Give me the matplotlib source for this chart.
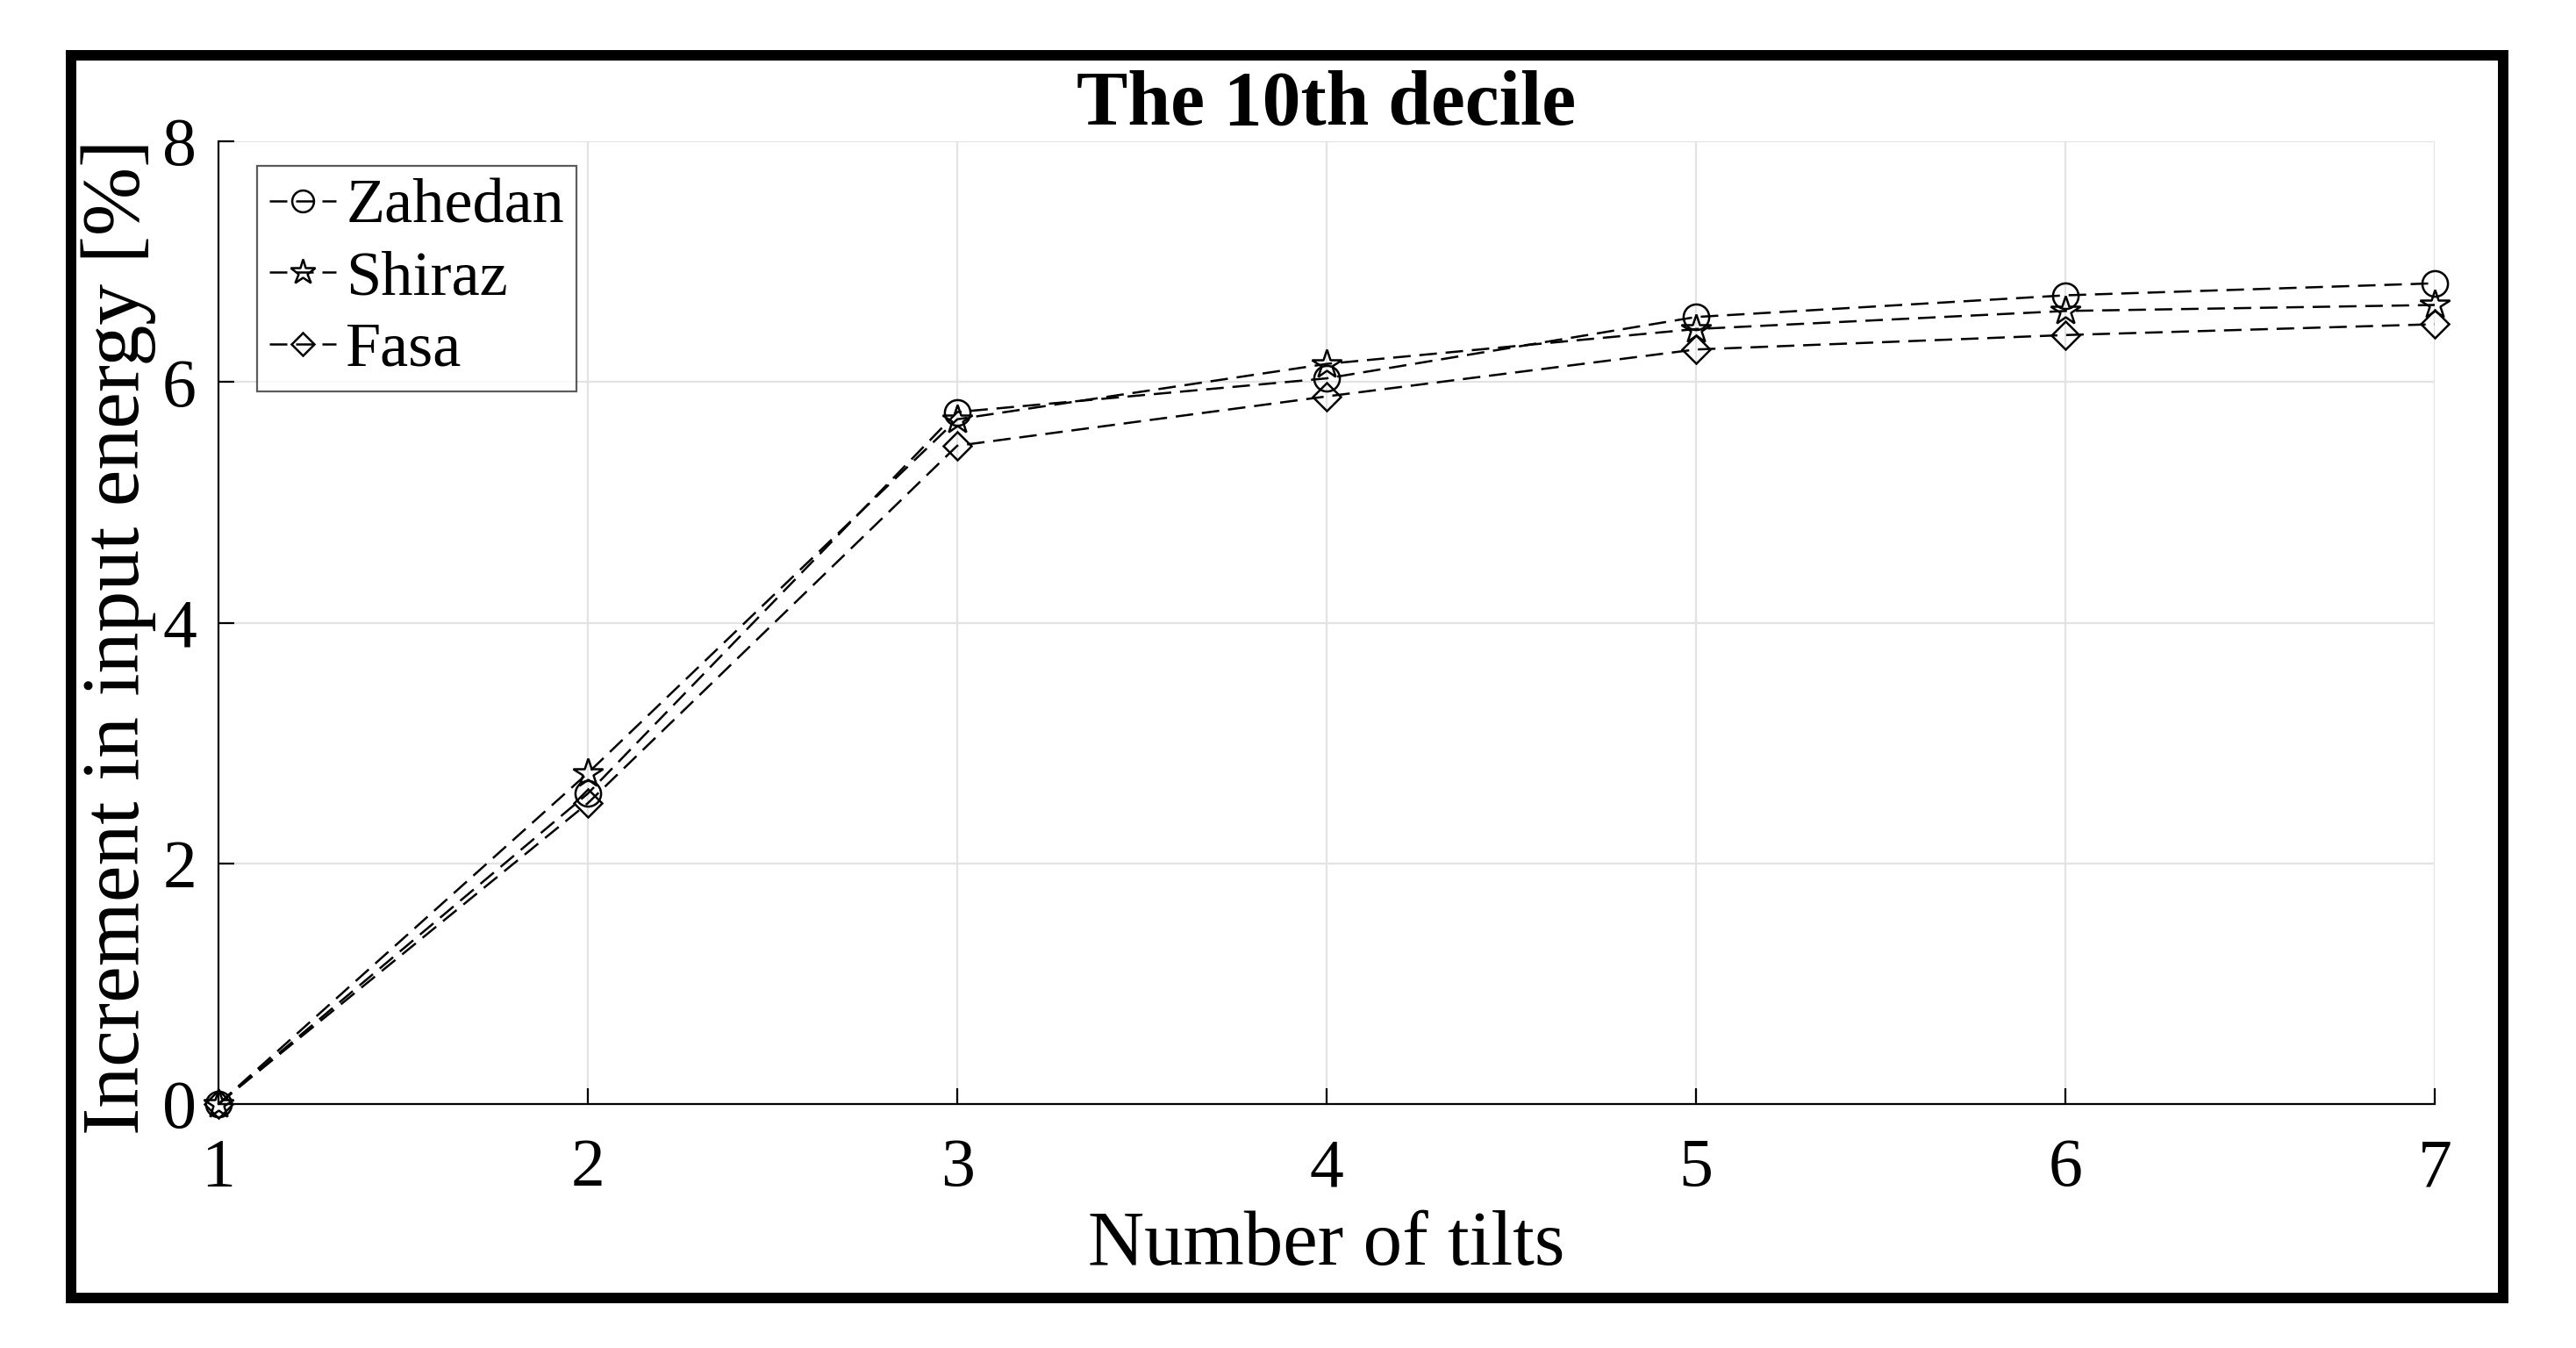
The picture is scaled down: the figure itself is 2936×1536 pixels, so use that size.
import numpy as np
import matplotlib.pyplot as plt
from matplotlib.patches import Rectangle

# data
tilts = [1, 2, 3, 4, 5, 6, 7]
zahedan = [0.0, 2.58, 5.75, 6.03, 6.54, 6.72, 6.82]
shiraz = [0.0, 2.75, 5.69, 6.15, 6.44, 6.59, 6.64]
fasa = [0.0, 2.50, 5.47, 5.88, 6.27, 6.39, 6.48]

cities = ['Zahedan', 'Shiraz', 'Fasa']
markers = ['o', '*', 'D']
msizes = [10.5, 12.5, 8.0]

plt.rcParams['font.family'] = ['Liberation Serif', 'DejaVu Serif']

fig = plt.figure(figsize=(14.68, 7.68), dpi=200)
ax = fig.add_axes([249/2936, 1 - 1258/1536, (2775 - 249)/2936, (1258 - 161)/1536])

dash = (0, (8, 4))
for vals, name, mk, ms in zip([zahedan, shiraz, fasa], cities, markers, msizes):
    ax.plot(tilts, vals, color='black', linestyle=dash, linewidth=0.9,
            marker=mk, markersize=ms, markerfacecolor='none',
            markeredgecolor='black', markeredgewidth=0.9, label=name,
            clip_on=False, zorder=3)

ax.set_xlim(1, 7)
ax.set_ylim(0, 8)
ax.set_xticks(range(1, 8))
ax.set_yticks([0, 2, 4, 6, 8])
ax.grid(True, color='#e3e3e3', linewidth=0.8)
ax.set_axisbelow(True)
for s in ['top', 'right']:
    ax.spines[s].set_visible(False)
for s in ['left', 'bottom']:
    ax.spines[s].set_linewidth(0.8)
ax.tick_params(direction='in', length=6.5, width=0.8, labelsize=28, pad=9)
ax.tick_params(axis='x', pad=14)

ax.set_xlabel('Number of tilts', fontsize=32, labelpad=4)
ax.set_ylabel('Increment in input energy [%]', fontsize=33.8)
ax.yaxis.set_label_coords(-0.028, 0.485)
ax.set_title('The 10th decile', fontsize=31.5, fontweight='bold', pad=6)

leg = ax.legend(loc='upper left', bbox_to_anchor=(44/2526, 1 - 28/1097),
                fontsize=26, frameon=True, fancybox=False, handlelength=1.05,
                handletextpad=0.15, borderpad=0.2, labelspacing=0.22,
                borderaxespad=0, markerscale=0.85)
leg.get_frame().set_edgecolor('#333333')
leg.get_frame().set_linewidth(0.8)

# thick outer frame around the whole figure
fig.patches.append(Rectangle((81/2936, 1 - 1479/1536), (2853 - 81)/2936, (1479 - 63)/1536,
                             transform=fig.transFigure, fill=False,
                             edgecolor='black', linewidth=4.3))

fig.savefig('out.png', dpi=200)
